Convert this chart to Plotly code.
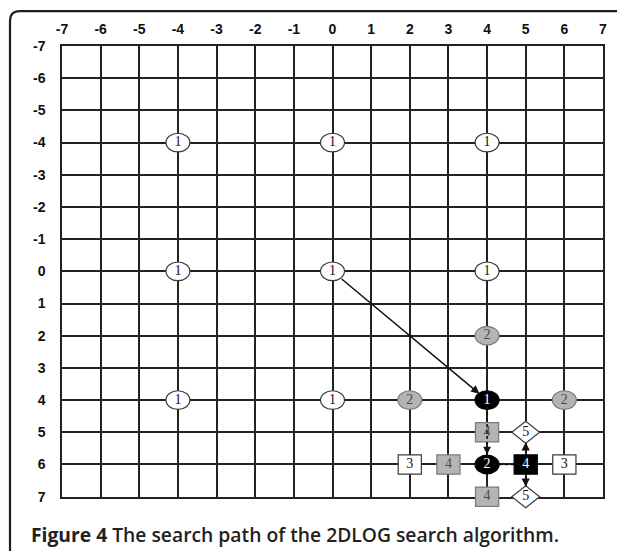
import plotly.graph_objects as go

# ---- data ----
ticks = list(range(-7, 8))

circ_x = [-4, 0, 4, -4, 0, 4, -4, 0, 4, 4, 2, 6, 4]
circ_y = [-4, -4, -4, 0, 0, 0, 4, 4, 4, 2, 4, 4, 6]
circ_lab = ["1", "1", "1", "1", "1", "1", "1", "1", "1", "2", "2", "2", "2"]
circ_sty = ["white"] * 8 + ["black", "gray", "gray", "gray", "black"]

sq_x = [4, 3, 4, 2, 6, 5]
sq_y = [5, 6, 7, 6, 6, 6]
sq_lab = ["4", "4", "4", "3", "3", "4"]
sq_sty = ["gray", "gray", "gray", "white", "white", "black"]

dm_x = [5, 5]
dm_y = [5, 7]
dm_lab = ["5", "5"]
dm_sty = ["white", "white"]

# search path moves: (from_x, from_y, to_x, to_y, dash)
moves = [
    (0, 0, 4, 4, "solid"),
    (4, 4, 4, 6, "dot"),
    (4, 6, 5, 6, "dot"),
    (5, 6, 5, 5, "solid"),
    (5, 6, 5, 7, "solid"),
]

caption = "<b>Figure 4</b> The search path of the 2DLOG search algorithm."

# ---- styles ----
FILL = {"white": "#ffffff", "gray": "#b4b4b4", "black": "#000000"}
EDGE = {"white": "#3a3a3a", "gray": "#7a7a7a", "black": "#000000"}
TXT = {"white": "#111111", "gray": "#4a4a4a", "black": "#ffffff"}

# marks live on hidden twin axes (same scale, a bit taller) so that
# the bottom-row symbols are not clipped at the grid edge
EXTRA = 0.6
DOM0 = EXTRA / (14 + EXTRA)
MX, MY = "x2", "y2"

fig = go.Figure()
# invisible trace so that the visible grid subplot (x, y) is created
fig.add_trace(go.Scatter(x=[None], y=[None], xaxis="x", yaxis="y", mode="markers",
                         hoverinfo="skip", showlegend=False))

shapes = []
RX, RY = 0.31, 0.29
for x, y, s in zip(circ_x, circ_y, circ_sty):
    shapes.append(dict(type="circle", xref=MX, yref=MY, x0=x - RX, x1=x + RX,
                       y0=y - RY, y1=y + RY, fillcolor=FILL[s],
                       line=dict(color=EDGE[s], width=1.2), layer="between"))
SX, SY = 0.30, 0.30
for x, y, s in zip(sq_x, sq_y, sq_sty):
    shapes.append(dict(type="rect", xref=MX, yref=MY, x0=x - SX, x1=x + SX,
                       y0=y - SY, y1=y + SY, fillcolor=FILL[s],
                       line=dict(color=EDGE[s], width=1.2), layer="between"))
DX, DY = 0.36, 0.34
for x, y, s in zip(dm_x, dm_y, dm_sty):
    path = f"M {x-DX},{y} L {x},{y-DY} L {x+DX},{y} L {x},{y+DY} Z"
    shapes.append(dict(type="path", xref=MX, yref=MY, path=path,
                       fillcolor=FILL[s], line=dict(color=EDGE[s], width=1.2),
                       layer="between"))

def to_paper_y(v):
    # paper y measured relative to the grid (0 = grid bottom, 1 = grid top)
    return DOM0 + v * (1 - DOM0)

# outer rounded frame (paper coords)
shapes.append(dict(type="path", xref="paper", yref="paper",
                   path="M -0.0961,-0.3 L -0.0961,{a} Q -0.0961,{b} -0.0776,{b} L 1.2,{b}"
                   .format(a=to_paper_y(1.0554), b=to_paper_y(1.0776)),
                   line=dict(color="#1e1e1e", width=2.2), layer="above"))

annotations = []
for fx, fy, tx, ty, dash in moves:
    if dash == "dot":
        fig.add_trace(go.Scatter(x=[fx, tx], y=[fy, ty], mode="lines", xaxis=MX, yaxis=MY,
                                 line=dict(color="#111", width=1.6, dash="dot"),
                                 hoverinfo="skip", showlegend=False))
        ax = tx - (tx - fx) * 0.3 if fx != tx else tx
        ay = ty - (ty - fy) * 0.3 if fy != ty else ty
        annotations.append(dict(x=tx, y=ty, ax=ax, ay=ay, xref=MX, yref=MY,
                                axref=MX, ayref=MY, showarrow=True, text="",
                                arrowhead=2, arrowsize=1.1, arrowwidth=1.4,
                                arrowcolor="#111", standoff=10))
    else:
        annotations.append(dict(x=tx, y=ty, ax=fx, ay=fy, xref=MX, yref=MY,
                                axref=MX, ayref=MY, showarrow=True, text="",
                                arrowhead=2, arrowsize=1.1, arrowwidth=1.5,
                                arrowcolor="#111", standoff=10, startstandoff=10))

all_x = circ_x + sq_x + dm_x
all_y = circ_y + sq_y + dm_y
all_lab = circ_lab + sq_lab + dm_lab
all_col = [TXT[s] for s in circ_sty + sq_sty + dm_sty]
fig.add_trace(go.Scatter(x=all_x, y=all_y, mode="text", text=all_lab, xaxis=MX, yaxis=MY,
                         cliponaxis=False,
                         textfont=dict(family="Liberation Serif", size=14, color=all_col),
                         hoverinfo="skip", showlegend=False))

annotations.append(dict(x=-0.0616, y=to_paper_y(-0.0843), xref="paper", yref="paper",
                        xanchor="left", yanchor="middle", showarrow=False,
                        text=caption,
                        font=dict(family="Open Sans", size=19.3, color="#222", weight=600)))

axis_common = dict(tickmode="array", tickvals=ticks, ticktext=[str(t) for t in ticks],
                   showgrid=True, gridcolor="#222222", gridwidth=1.5,
                   zeroline=False, showline=True, mirror=True,
                   linecolor="#222222", linewidth=1.5, ticks="",
                   tickfont=dict(family="Liberation Sans", size=14, color="#111", weight="bold"),
                   fixedrange=True)
hidden = dict(visible=False, showgrid=False, zeroline=False, fixedrange=True)

PLOT_H = 451
full_h = PLOT_H / (1 - DOM0)
top_m = 38
bot_m = 551 - top_m - full_h

fig.update_layout(
    width=625, height=551,
    margin=dict(l=54, r=30, t=top_m, b=bot_m),
    paper_bgcolor="white", plot_bgcolor="rgba(0,0,0,0)",
    xaxis=dict(range=[-7, 7], side="top", anchor="y", ticklabelstandoff=5, **axis_common),
    yaxis=dict(range=[7, -7], domain=[DOM0, 1], anchor="x", ticklabelstandoff=12, **axis_common),
    xaxis2=dict(range=[-7, 7], domain=[0, 1], anchor="y2", **hidden),
    yaxis2=dict(range=[7 + EXTRA, -7], domain=[0, 1], anchor="x2", **hidden),
    shapes=shapes, annotations=annotations, showlegend=False,
)

fig.write_html("out.html")
